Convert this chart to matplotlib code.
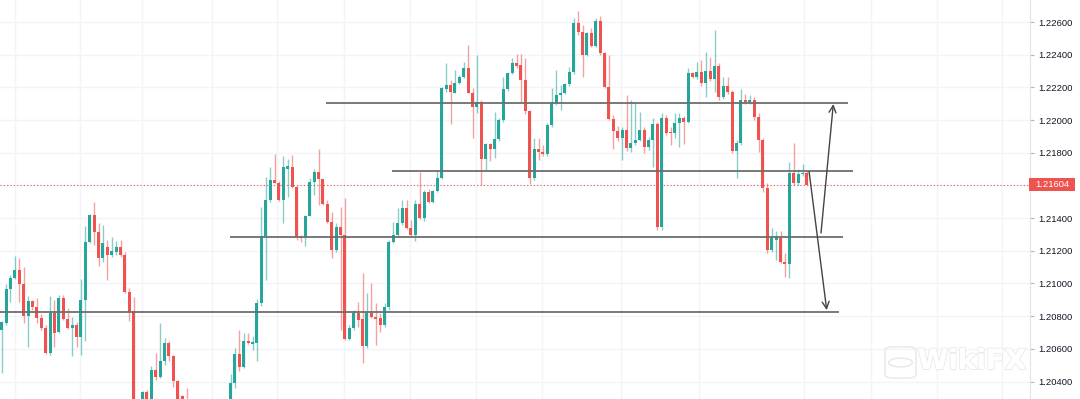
import numpy as np
import matplotlib
matplotlib.use("Agg")
import matplotlib.pyplot as plt
import matplotlib.transforms as mtransforms
import matplotlib.patheffects as pe
from matplotlib.patches import FancyBboxPatch, Circle, Rectangle

# EURUSD-like candles (price values)
opens = [1.20715, 1.20760, 1.20966, 1.21031, 1.21080, 1.20997, 1.20803, 1.20893, 1.20858, 1.20787,
         1.20729, 1.20572, 1.20817, 1.20705, 1.20913, 1.20785, 1.20725, 1.20746, 1.20674, 1.20899,
         1.21256, 1.21419, 1.21317, 1.21154, 1.21225, 1.21174, 1.21195, 1.21221, 1.21174, 1.20950,
         1.20834, 1.20220, 1.20260, 1.20334, 1.20280, 1.20470, 1.20425, 1.20527, 1.20633, 1.20556,
         1.20405, 1.20310, 1.20280, 1.20240, 1.20190, 1.20150, 1.20170, 1.20130, 1.20160, 1.20200,
         1.20180, 1.20230, 1.20240, 1.20389, 1.20568, 1.20486, 1.20648, 1.20630, 1.20638, 1.20878,
         1.21290, 1.21511, 1.21633, 1.21617, 1.21511, 1.21700, 1.21715, 1.21592, 1.21286, 1.21282,
         1.21415, 1.21623, 1.21684, 1.21639, 1.21486, 1.21378, 1.21205, 1.21344, 1.21297, 1.20658,
         1.20725, 1.20817, 1.20780, 1.20617, 1.20817, 1.20797, 1.20787, 1.20746, 1.20858, 1.21256,
         1.21297, 1.21368, 1.21459, 1.21337, 1.21296, 1.21486, 1.21398, 1.21562, 1.21500, 1.21566,
         1.21643, 1.22188, 1.22214, 1.22168, 1.22229, 1.22265, 1.22316, 1.22167, 1.22078, 1.22112,
         1.21759, 1.21853, 1.21821, 1.21882, 1.22000, 1.22188, 1.22290, 1.22347, 1.22337, 1.22245,
         1.22057, 1.21643, 1.21823, 1.21806, 1.21792, 1.21970, 1.22106, 1.22153, 1.22167, 1.22221,
         1.22296, 1.22596, 1.22537, 1.22398, 1.22531, 1.22456, 1.22606, 1.22413, 1.22201, 1.22005,
         1.21933, 1.21888, 1.21939, 1.21827, 1.21862, 1.21878, 1.21939, 1.21837, 1.21878, 1.21976,
         1.21348, 1.22011, 1.21927, 1.21919, 1.21980, 1.22011, 1.21990, 1.22286, 1.22262, 1.22296,
         1.22224, 1.22302, 1.22249, 1.22330, 1.22139, 1.22208, 1.22173, 1.21812, 1.21861, 1.22122,
         1.22112, 1.22126, 1.22016, 1.21878, 1.21582, 1.21204, 1.21266, 1.21276, 1.21133, 1.21119,
         1.21678, 1.21612, 1.21670, 1.21678]

highs = [1.20770, 1.20995, 1.21052, 1.21168, 1.21154, 1.21099, 1.20923, 1.20899, 1.20909, 1.20813,
         1.20746, 1.20923, 1.20899, 1.20929, 1.20929, 1.20848, 1.20793, 1.20766, 1.21025, 1.21352,
         1.21425, 1.21501, 1.21368, 1.21358, 1.21266, 1.21286, 1.21262, 1.21266, 1.21195, 1.20970,
         1.20919, 1.20270, 1.20340, 1.20350, 1.20495, 1.20576, 1.20760, 1.20664, 1.20648, 1.20560,
         1.20410, 1.20315, 1.20358, 1.20270, 1.20240, 1.20200, 1.20220, 1.20190, 1.20230, 1.20250,
         1.20260, 1.20280, 1.20444, 1.20603, 1.20715, 1.20695, 1.20699, 1.20680, 1.20903, 1.21470,
         1.21654, 1.21715, 1.21792, 1.21630, 1.21780, 1.21760, 1.21786, 1.21600, 1.21296, 1.21420,
         1.21643, 1.21698, 1.21821, 1.21640, 1.21511, 1.21439, 1.21368, 1.21470, 1.21521, 1.20746,
         1.20838, 1.20889, 1.21062, 1.20940, 1.21001, 1.20878, 1.20817, 1.20878, 1.21266, 1.21378,
         1.21460, 1.21511, 1.21511, 1.21388, 1.21511, 1.21684, 1.21570, 1.21580, 1.21575, 1.21694,
         1.22204, 1.22347, 1.22245, 1.22306, 1.22276, 1.22357, 1.22459, 1.22194, 1.22398, 1.22120,
         1.21857, 1.21860, 1.22051, 1.22010, 1.22265, 1.22296, 1.22378, 1.22402, 1.22402, 1.22378,
         1.22060, 1.21888, 1.21888, 1.21847, 1.21980, 1.22194, 1.22306, 1.22214, 1.22230, 1.22327,
         1.22623, 1.22668, 1.22582, 1.22541, 1.22562, 1.22623, 1.22639, 1.22415, 1.22398, 1.22031,
         1.21964, 1.21960, 1.22154, 1.22123, 1.22113, 1.22052, 1.21960, 1.21899, 1.22011, 1.21990,
         1.22041, 1.22030, 1.21960, 1.22046, 1.22046, 1.22025, 1.22317, 1.22296, 1.22358, 1.22367,
         1.22418, 1.22384, 1.22551, 1.22347, 1.22265, 1.22265, 1.22184, 1.21878, 1.22188, 1.22159,
         1.22153, 1.22140, 1.22041, 1.21888, 1.21612, 1.21337, 1.21323, 1.21323, 1.21184, 1.21745,
         1.21857, 1.21698, 1.21731, 1.21690]

lows = [1.20454, 1.20746, 1.20889, 1.21025, 1.20889, 1.20760, 1.20609, 1.20838, 1.20756, 1.20715,
        1.20568, 1.20562, 1.20613, 1.20699, 1.20776, 1.20719, 1.20556, 1.20613, 1.20562, 1.20650,
        1.21246, 1.21235, 1.21107, 1.21133, 1.21021, 1.21164, 1.21174, 1.21164, 1.20944, 1.20772,
        1.20200, 1.20180, 1.20240, 1.20260, 1.20260, 1.20409, 1.20419, 1.20501, 1.20525, 1.20364,
        1.20250, 1.20250, 1.20200, 1.20160, 1.20120, 1.20100, 1.20110, 1.20090, 1.20140, 1.20150,
        1.20160, 1.20190, 1.20200, 1.20358, 1.20466, 1.20480, 1.20630, 1.20590, 1.20528, 1.20860,
        1.21021, 1.21501, 1.21613, 1.21507, 1.21368, 1.21530, 1.21582, 1.21266, 1.21256, 1.21229,
        1.21413, 1.21541, 1.21480, 1.21480, 1.21372, 1.21154, 1.21195, 1.20715, 1.20654, 1.20654,
        1.20715, 1.20736, 1.20511, 1.20603, 1.20787, 1.20623, 1.20705, 1.20736, 1.20840, 1.21245,
        1.21286, 1.21360, 1.21331, 1.21286, 1.21262, 1.21392, 1.21380, 1.21490, 1.21490, 1.21559,
        1.21637, 1.22174, 1.21976, 1.22163, 1.22220, 1.22255, 1.22163, 1.21888, 1.22041, 1.21602,
        1.21694, 1.21750, 1.21766, 1.21870, 1.21990, 1.22180, 1.22280, 1.22320, 1.22112, 1.22040,
        1.21608, 1.21633, 1.21755, 1.21780, 1.21780, 1.21960, 1.22090, 1.22061, 1.22160, 1.22210,
        1.22280, 1.22520, 1.22266, 1.22390, 1.22450, 1.22450, 1.22400, 1.22194, 1.22000, 1.21821,
        1.21870, 1.21756, 1.21810, 1.21807, 1.21850, 1.21870, 1.21797, 1.21820, 1.21715, 1.21327,
        1.21327, 1.21910, 1.21848, 1.21888, 1.21837, 1.21854, 1.21980, 1.22256, 1.22250, 1.22210,
        1.22143, 1.22240, 1.22173, 1.22122, 1.22130, 1.22160, 1.21796, 1.21643, 1.21850, 1.22100,
        1.22100, 1.22000, 1.21806, 1.21561, 1.21184, 1.21194, 1.21143, 1.21123, 1.21041, 1.21031,
        1.21602, 1.21605, 1.21660, 1.21600]

closes = [1.20766, 1.20966, 1.21031, 1.21080, 1.20997, 1.20803, 1.20893, 1.20854, 1.20787, 1.20725,
          1.20572, 1.20817, 1.20699, 1.20913, 1.20780, 1.20725, 1.20746, 1.20674, 1.20899, 1.21256,
          1.21419, 1.21317, 1.21154, 1.21246, 1.21174, 1.21199, 1.21221, 1.21174, 1.20950, 1.20827,
          1.20220, 1.20250, 1.20334, 1.20280, 1.20470, 1.20425, 1.20527, 1.20633, 1.20556, 1.20405,
          1.20280, 1.20280, 1.20240, 1.20190, 1.20150, 1.20170, 1.20130, 1.20160, 1.20200, 1.20180,
          1.20230, 1.20240, 1.20389, 1.20568, 1.20486, 1.20648, 1.20633, 1.20640, 1.20878, 1.21290,
          1.21511, 1.21633, 1.21617, 1.21511, 1.21715, 1.21720, 1.21588, 1.21282, 1.21276, 1.21415,
          1.21623, 1.21684, 1.21639, 1.21486, 1.21378, 1.21205, 1.21344, 1.21297, 1.20658, 1.20725,
          1.20817, 1.20776, 1.20617, 1.20817, 1.20797, 1.20782, 1.20746, 1.20858, 1.21256, 1.21297,
          1.21368, 1.21459, 1.21337, 1.21296, 1.21486, 1.21398, 1.21562, 1.21500, 1.21566, 1.21643,
          1.22194, 1.22214, 1.22174, 1.22229, 1.22265, 1.22316, 1.22167, 1.22078, 1.22112, 1.21759,
          1.21853, 1.21821, 1.21882, 1.22000, 1.22188, 1.22290, 1.22347, 1.22333, 1.22245, 1.22057,
          1.21643, 1.21823, 1.21806, 1.21792, 1.21970, 1.22106, 1.22153, 1.22167, 1.22221, 1.22296,
          1.22596, 1.22537, 1.22398, 1.22531, 1.22456, 1.22606, 1.22413, 1.22201, 1.22005, 1.21933,
          1.21888, 1.21939, 1.21827, 1.21862, 1.21878, 1.21939, 1.21837, 1.21878, 1.21976, 1.21348,
          1.22011, 1.21923, 1.21919, 1.21980, 1.22011, 1.21990, 1.22286, 1.22262, 1.22296, 1.22224,
          1.22302, 1.22249, 1.22330, 1.22139, 1.22208, 1.22173, 1.21812, 1.21861, 1.22122, 1.22112,
          1.22126, 1.22016, 1.21878, 1.21582, 1.21204, 1.21276, 1.21286, 1.21133, 1.21119, 1.21678,
          1.21612, 1.21670, 1.21678, 1.21604]

last_price = 1.21604

# drawn levels: (price, first bar, last bar)
levels = [(1.22104, 73.7, 192.3),
          (1.21688, 88.7, 193.5),
          (1.21284, 51.9, 191.2),
          (1.20825, -0.4, 190.3)]

# projection arrows: (bar, price) -> (bar, price)
arrows = [((183.5, 1.21684), (187.5, 1.20837)),
          ((186.2, 1.21309), (189.0, 1.22098))]

# day separators (bar positions of vertical grid lines)
day_lines = [2.95, 17.8, 31.9, 47.8, 62.6, 77.8, 92.8, 107.8, 122.8,
             140.7, 158.5, 182.3, 197.6, 212.6, 227.3]

price_ticks = np.arange(1.204, 1.2265, 0.002)

UP = "#26a69a"
DOWN = "#ef5350"
FONT = ["Liberation Sans", "DejaVu Sans"]

fig = plt.figure(figsize=(10.8, 3.99), dpi=100)
ax = fig.add_axes([0, 0, 1030 / 1080, 1])

o = np.array(opens)
h = np.array(highs)
l = np.array(lows)
c = np.array(closes)
x = np.arange(len(o))
cols = np.where(c >= o, UP, DOWN)

for xv in day_lines:
    ax.axvline(xv, color="#f2f4f8", lw=1, zorder=0)
for p in price_ticks:
    ax.axhline(p, color="#f2f4f8", lw=1, zorder=0)

ax.vlines(x, l, h, colors=cols, lw=1, alpha=0.55, zorder=2)
body = np.maximum(np.abs(c - o), 0.00006)
ax.bar(x, body, bottom=np.minimum(o, c), width=0.68, color=cols, lw=0, zorder=3)

ax.axhline(last_price, color=DOWN, ls=(0, (1, 2)), lw=0.8, zorder=1)

for p, a, b in levels:
    ax.hlines(p, a, b, color="#6e6e6e", lw=1.3, zorder=4)

for (x0, y0), (x1, y1) in arrows:
    ax.annotate("", xy=(x1, y1), xytext=(x0, y0),
                arrowprops=dict(arrowstyle="->,head_length=0.5,head_width=0.25",
                                color="#444444", lw=1.0, shrinkA=0, shrinkB=0),
                zorder=5)

ax.set_xlim(-0.386, 233.7)
ax.set_ylim(1.20293, 1.22735)

for s in ["top", "left", "bottom"]:
    ax.spines[s].set_visible(False)
ax.spines["right"].set_color("#e0e3eb")
ax.yaxis.tick_right()
ax.set_yticks(price_ticks)
# the 1.21600 label sits under the last-price tag
ax.set_yticklabels(["" if abs(p - 1.216) < 1e-6 else "%.5f" % p for p in price_ticks])
ax.tick_params(axis="y", length=3, color="#b2b5be", pad=3, labelsize=6.8,
               labelcolor="#131722")
for t in ax.get_yticklabels():
    t.set_family(FONT)
ax.set_xticks([])

# last price tag on the scale
trans = mtransforms.blended_transform_factory(ax.transAxes, ax.transData)
px = 0.02442 / 399
tag = Rectangle((1.0 - 1 / 1030, last_price - 6.5 * px), 46 / 1030, 13 * px,
                transform=trans, fc=DOWN, ec="none", clip_on=False, zorder=6)
ax.add_patch(tag)
ax.text(1.0 + 22 / 1030, last_price, "%.5f" % last_price, transform=trans,
        ha="center", va="center", color="white", fontsize=6.8, family=FONT,
        zorder=7, clip_on=False)

# faint watermark
wm = fig.text(972 / 1080, 1 - 361 / 399, "WikiFX", ha="center", va="center",
              fontsize=20, fontweight="bold", color="white",
              family=["DejaVu Sans"], zorder=0)
wm.set_path_effects([pe.withStroke(linewidth=1.5, foreground="#ebebeb"), pe.Normal()])
box = FancyBboxPatch((885 / 1080, 1 - 378 / 399), 31 / 1080, 31 / 399,
                     boxstyle="round,pad=0,rounding_size=0.008", transform=fig.transFigure,
                     fc="none", ec="#ebebeb", lw=1.2)
fig.patches.append(box)
circ = Circle((900.5 / 1080, 1 - 362.5 / 399), 0.011, transform=fig.transFigure,
              fc="none", ec="#ebebeb", lw=1.2)
fig.patches.append(circ)

fig.savefig("out.png", dpi=100)
